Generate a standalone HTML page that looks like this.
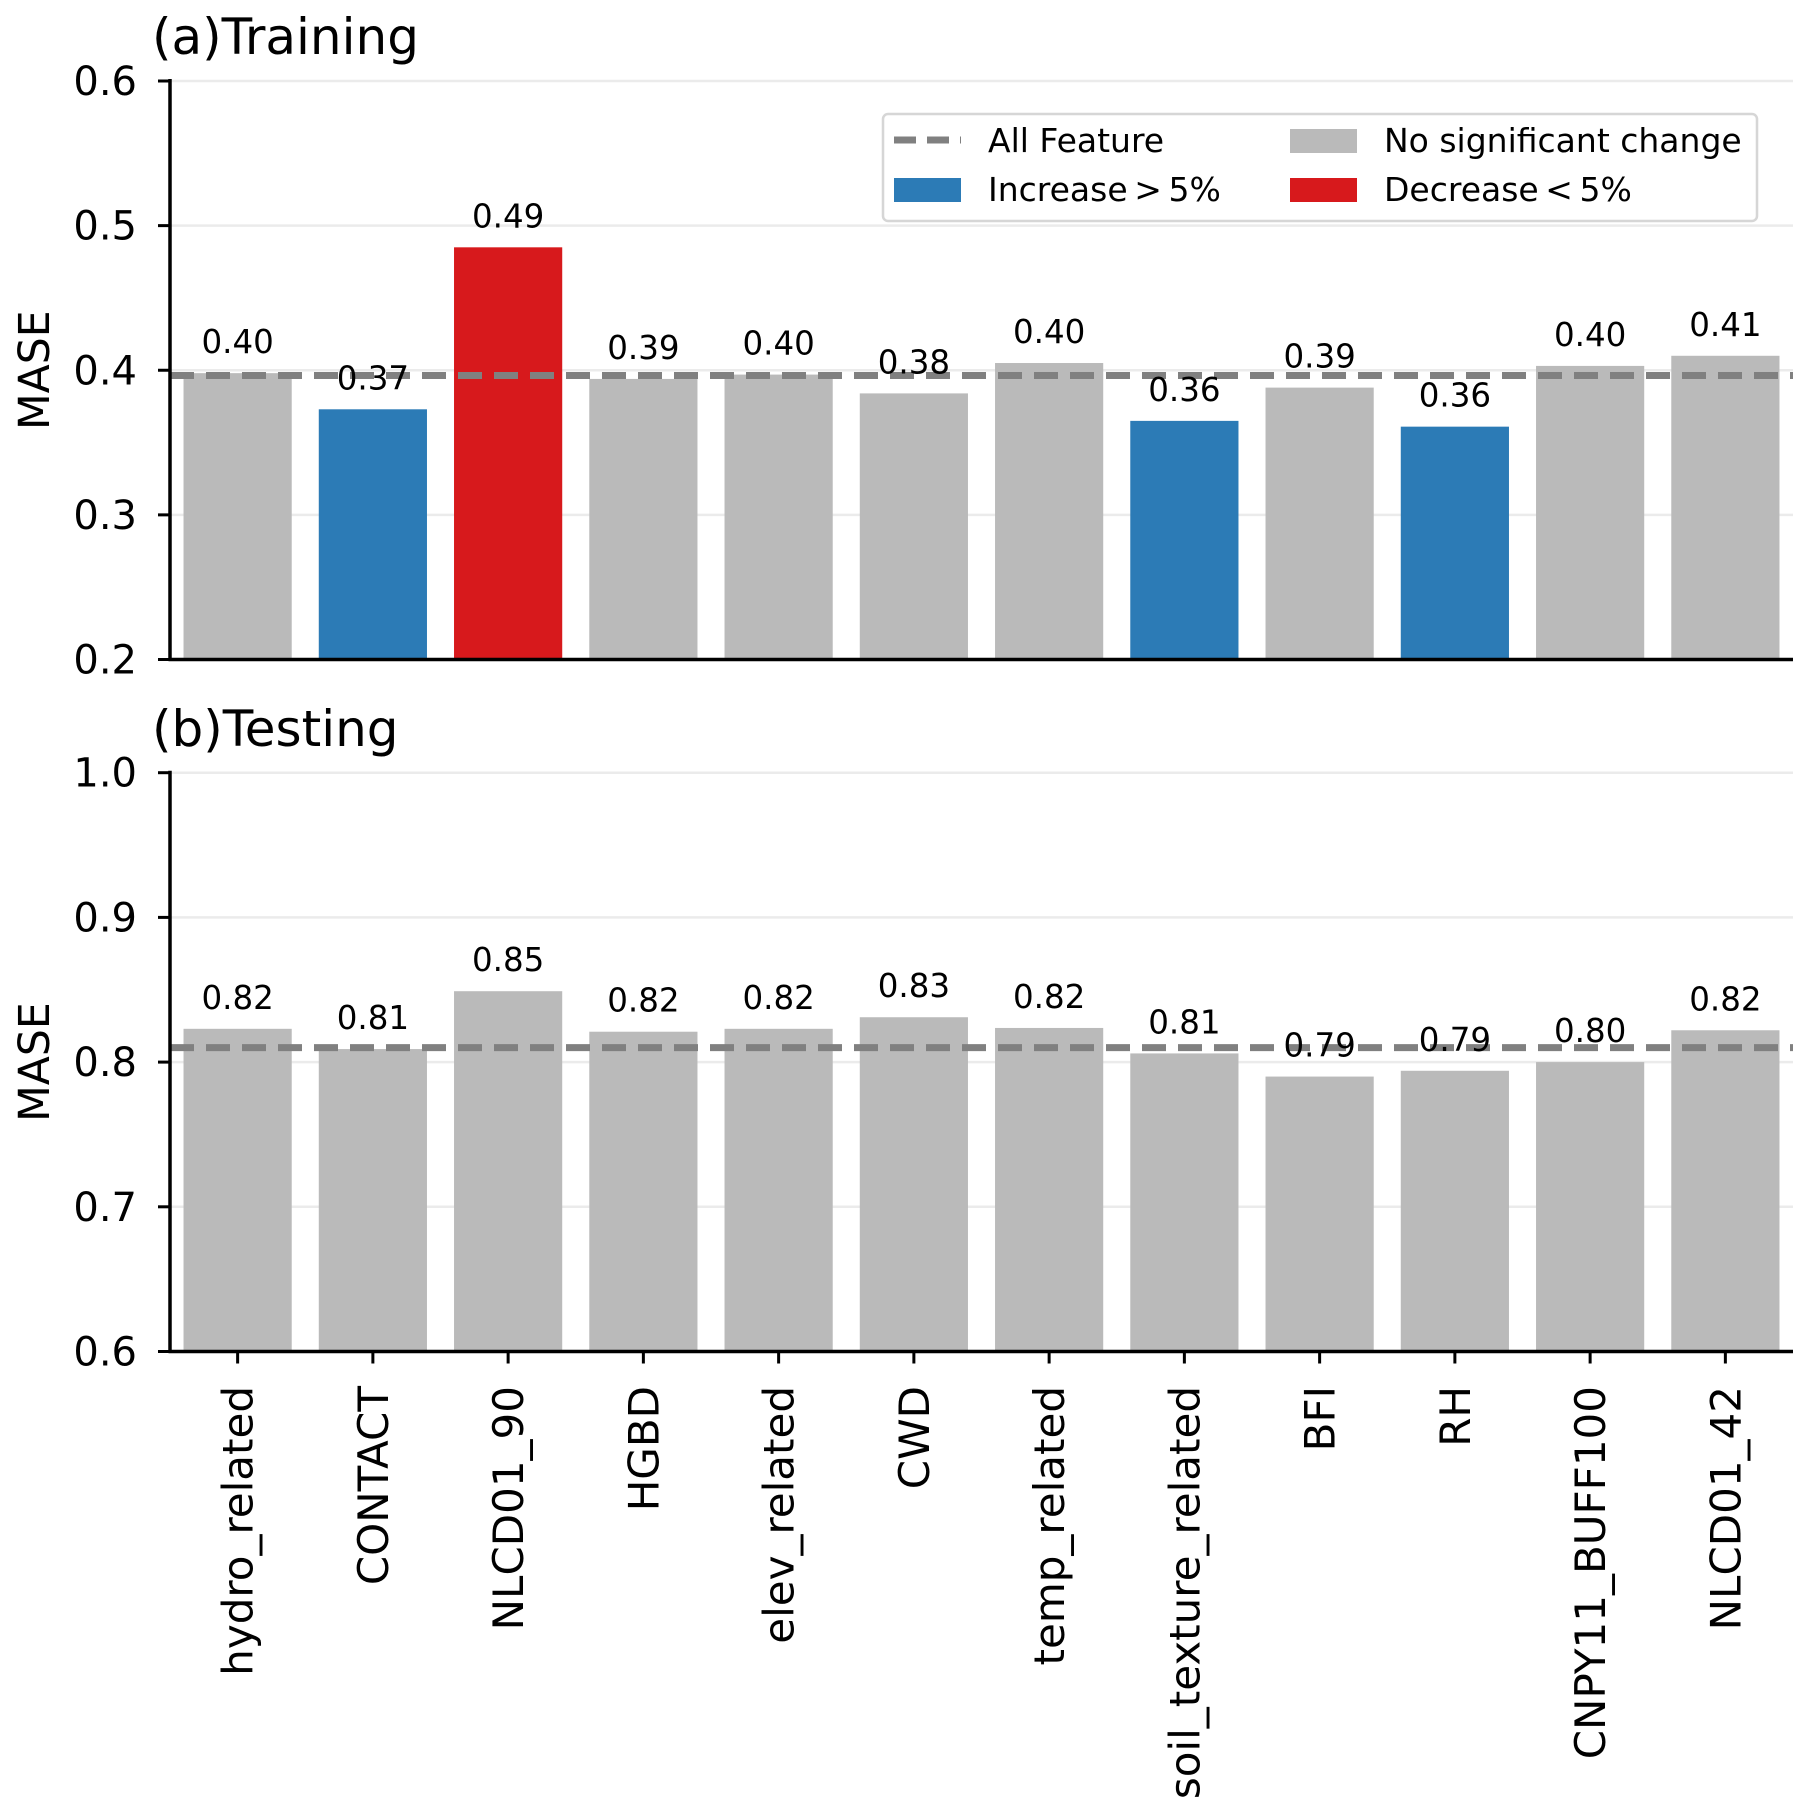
<!DOCTYPE html>
<html><head><meta charset="utf-8"><style>
html,body{margin:0;padding:0;background:#fff;}
svg{display:block;font-family:"DejaVu Sans","Liberation Sans",sans-serif;}
</style></head><body>
<svg id="chart" width="1811" height="1811" viewBox="0 0 1811 1811" xmlns="http://www.w3.org/2000/svg"></svg>
<script>
const categories = ["hydro_related","CONTACT","NLCD01_90","HGBD","elev_related","CWD","temp_related","soil_texture_related","BFI","RH","CNPY11_BUFF100","NLCD01_42"];
const trainValues = [0.398,0.373,0.485,0.394,0.397,0.384,0.405,0.365,0.388,0.361,0.403,0.410];
const trainLabels = ["0.40","0.37","0.49","0.39","0.40","0.38","0.40","0.36","0.39","0.36","0.40","0.41"];
const trainStatus = ["none","inc","dec","none","none","none","none","inc","none","inc","none","none"];
const trainBaseline = 0.3964;
const trainTicks = [0.2,0.3,0.4,0.5,0.6];
const trainTickLabels = ["0.2","0.3","0.4","0.5","0.6"];
const testValues = [0.823,0.809,0.849,0.821,0.823,0.831,0.8236,0.806,0.790,0.794,0.800,0.822];
const testLabels = ["0.82","0.81","0.85","0.82","0.82","0.83","0.82","0.81","0.79","0.79","0.80","0.82"];
const testBaseline = 0.810;
const testTicks = [0.6,0.7,0.8,0.9,1.0];
const testTickLabels = ["0.6","0.7","0.8","0.9","1.0"];

const NS="http://www.w3.org/2000/svg";
const svg=document.getElementById('chart');
const colors={none:"#bababa",inc:"#2c7bb6",dec:"#d7191c"};
function mk(tag,attrs,parent){const e=document.createElementNS(NS,tag);for(const k in attrs)e.setAttribute(k,attrs[k]);(parent||svg).appendChild(e);return e;}
const xLeft=170,xRight=1793;
const slot=(xRight-xLeft)/categories.length;
function xc(i){return xLeft+slot*(i+0.5);}

function panel(cfg){
  const y=v=>cfg.top+(cfg.max-v)/(cfg.max-cfg.min)*(cfg.bottom-cfg.top);
  const g=mk('g',{});
  
  
  cfg.ticks.forEach((t,i)=>{
    const gl=mk('line',{x1:xLeft,x2:xRight,y1:y(t),y2:y(t),stroke:"#ebebeb","stroke-width":2.5},g);
    
    
    const tk=mk('line',{x1:xLeft-12,x2:xLeft,y1:y(t),y2:y(t),stroke:"#000","stroke-width":3},g);
    
    
    const tl=mk('text',{x:xLeft-33,y:y(t)+14,"text-anchor":"end","font-size":40,fill:"#000"},g);
    tl.textContent=cfg.tickLabels[i];
    
    
  });
  cfg.values.forEach((v,i)=>{
    const w=slot*0.8;
    const r=mk('rect',{x:xc(i)-w/2,y:y(v),width:w,height:cfg.bottom-y(v),fill:colors[cfg.status?cfg.status[i]:"none"]},g);
    
    
  });
  const bl=mk('line',{x1:xLeft,x2:xRight,y1:y(cfg.baseline),y2:y(cfg.baseline),stroke:"#808080","stroke-width":7,"stroke-dasharray":"24 12"},g);
  
  
  cfg.values.forEach((v,i)=>{
    const t=mk('text',{x:xc(i),y:y(v)-20,"text-anchor":"middle","font-size":32.5,fill:"#000"},g);
    t.textContent=cfg.labels[i];
    
    
  });
  const ls=mk('line',{x1:xLeft,x2:xLeft,y1:cfg.top-2,y2:cfg.bottom+1.5,stroke:"#000","stroke-width":3.5},g);
  
  
  const bs=mk('line',{x1:xLeft-1.5,x2:xRight,y1:cfg.bottom,y2:cfg.bottom,stroke:"#000","stroke-width":3.5},g);
  
  
  if(cfg.xticks){
    categories.forEach((c,i)=>{
      const tk=mk('line',{x1:xc(i),x2:xc(i),y1:cfg.bottom,y2:cfg.bottom+12,stroke:"#000","stroke-width":3},g);
      
      
    });
  }
  const tt=mk('text',{x:152,y:cfg.titleY,"font-size":50,fill:"#000"},g);
  tt.textContent=cfg.title;
  
  
  const yl=mk('text',{x:0,y:0,"text-anchor":"middle","font-size":42.5,fill:"#000",transform:`translate(49,${(cfg.top+cfg.bottom)/2}) rotate(-90)`},g);
  yl.textContent="MASE";
  
  
  return y;
}

panel({name:'training-panel',top:81,bottom:659.5,min:0.2,max:0.6,ticks:trainTicks,tickLabels:trainTickLabels,values:trainValues,labels:trainLabels,status:trainStatus,baseline:trainBaseline,title:"(a)Training",titleY:54,xticks:false});
panel({name:'testing-panel',top:772.7,bottom:1351.5,min:0.6,max:1.0,ticks:testTicks,tickLabels:testTickLabels,values:testValues,labels:testLabels,status:null,baseline:testBaseline,title:"(b)Testing",titleY:746,xticks:true});

categories.forEach((c,i)=>{
  const t=mk('text',{x:0,y:0,"text-anchor":"end","font-size":42,fill:"#000",transform:`translate(${xc(i)+15},1386) rotate(-90)`});
  t.textContent=c;
  
  
});

const lg=mk('g',{});


const lbox=mk('rect',{x:883,y:114,width:874,height:107,rx:5,fill:"#fff",stroke:"#d6d6d6","stroke-width":2.5},lg);


const ll=mk('line',{x1:894,x2:961,y1:140,y2:140,stroke:"#808080","stroke-width":7,"stroke-dasharray":"22 11"},lg);


const items=[[988,152,"All Feature"],[988,201,"Increase\u2009>\u20095%"],[1384,152,"No significant change"],[1384,201,"Decrease\u2009<\u20095%"]];
const patches=[[894,178,colors.inc],[1290,129,colors.none],[1290,178,colors.dec]];
patches.forEach(p=>{
  const r=mk('rect',{x:p[0],y:p[1],width:67,height:24,fill:p[2]},lg);
  
  
});
items.forEach(it=>{
  const t=mk('text',{x:it[0],y:it[1],"font-size":33,fill:"#000"},lg);
  t.textContent=it[2];
  
  
});
</script>
</body></html>
